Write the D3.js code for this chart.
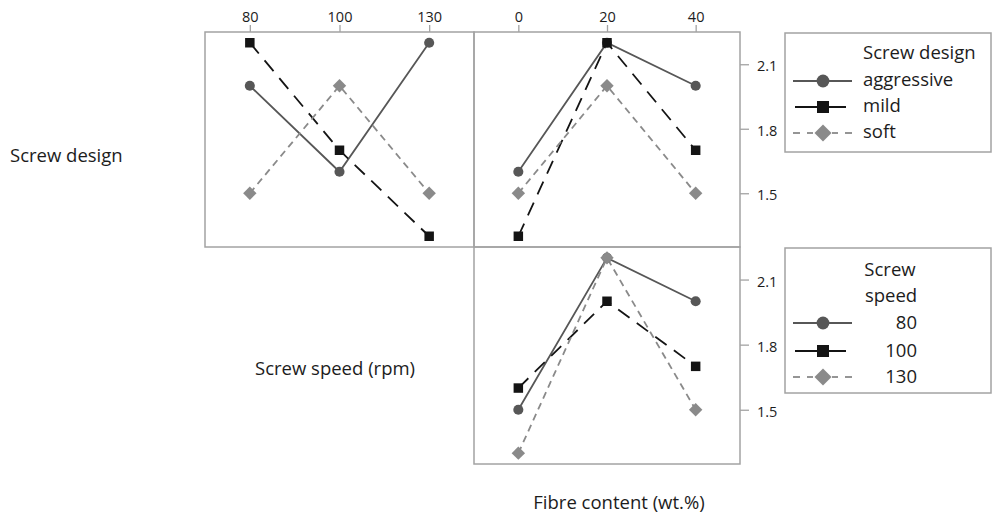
<!DOCTYPE html>
<html>
<head>
<meta charset="utf-8">
<script src="https://cdn.jsdelivr.net/npm/d3@7/dist/d3.min.js"></script>
<style>
  html, body { margin: 0; padding: 0; background: #fff; }
  svg { display: block; font-family: "Open Sans", "Noto Sans", sans-serif; }
</style>
</head>
<body>
<svg id="chart" width="992" height="520"></svg>
<script>
// Factor levels
const designLevels = ["aggressive", "mild", "soft"];
const speedLevels = ["80", "100", "130"];
const fibreLevels = ["0", "20", "40"];
const yTicks = [1.5, 1.8, 2.1];

// Interaction means: screw design across screw speed
const aggressiveBySpeed = [2.0, 1.6, 2.2];
const mildBySpeed = [2.2, 1.7, 1.3];
const softBySpeed = [1.5, 2.0, 1.5];

// Interaction means: screw design across fibre content
const aggressiveByFibre = [1.6, 2.2, 2.0];
const mildByFibre = [1.3, 2.2, 1.7];
const softByFibre = [1.5, 2.0, 1.5];

// Interaction means: screw speed across fibre content
const speed80ByFibre = [1.5, 2.2, 2.0];
const speed100ByFibre = [1.6, 2.0, 1.7];
const speed130ByFibre = [1.3, 2.2, 1.5];

// Square diamond (rotated square), sized like d3 symbols by area
const symbolRhomb = {
  draw(ctx, size) {
    const r = Math.sqrt(size / 2);
    ctx.moveTo(0, -r); ctx.lineTo(r, 0); ctx.lineTo(0, r); ctx.lineTo(-r, 0); ctx.closePath();
  }
};

// Visual style of the three levels (solid/circle, long dash/square, short dash/diamond)
const styles = [
  { color: "#575757", dash: null, shape: d3.symbolCircle, size: 80 },
  { color: "#141414", dash: "14,9", shape: d3.symbolSquare, size: 90 },
  { color: "#8a8a8a", dash: "7,5", shape: symbolRhomb, size: 90 }
];

const svg = d3.select("#chart");
const borderColor = "#a3a3a3";
const textColor = "#1c1c1c";
const bigFont = 18.5;

const colA = [205, 474];
const colB = [474, 740];
const rowA = [32, 247];
const rowB = [247, 464];

const yDomain = [1.25, 2.25];

function panel(xr, yr, levels, series, opts) {
  const x = d3.scalePoint().domain(levels).range(xr).padding(0.5);
  const y = d3.scaleLinear().domain(yDomain).range([yr[1], yr[0]]);

  const g = svg.append("g");

  series.forEach((vals, i) => {
    const st = styles[i];
    const pts = levels.map((l, k) => [x(l), y(vals[k])]);
    g.append("path")
      .attr("d", d3.line()(pts))
      .attr("fill", "none")
      .attr("stroke", st.color)
      .attr("stroke-width", 1.8)
      .attr("stroke-dasharray", st.dash);
  });
  series.forEach((vals, i) => {
    const st = styles[i];
    g.selectAll(null).data(vals).enter().append("path")
      .attr("transform", (v, k) => `translate(${x(levels[k])},${y(v)})`)
      .attr("d", d3.symbol().type(st.shape).size(st.size))
      .attr("fill", st.color);
  });

  g.append("rect")
    .attr("x", xr[0]).attr("y", yr[0])
    .attr("width", xr[1] - xr[0]).attr("height", yr[1] - yr[0])
    .attr("fill", "none").attr("stroke", borderColor).attr("stroke-width", 1.5);

  if (opts.topAxis) {
    const ax = svg.append("g")
      .attr("transform", `translate(0,${yr[0]})`)
      .call(d3.axisTop(x).tickSize(7).tickPadding(3));
    ax.select(".domain").remove();
    ax.selectAll("line").attr("stroke", borderColor).attr("stroke-width", 1.3);
    ax.selectAll("text").attr("font-size", 14.5).attr("fill", textColor)
      .attr("font-family", "'Open Sans', sans-serif");
  }
  if (opts.rightAxis) {
    const ay = svg.append("g")
      .attr("transform", `translate(${xr[1]},0)`)
      .call(d3.axisRight(y).tickValues(yTicks).tickFormat(d3.format(".1f")).tickSize(9).tickPadding(8));
    ay.select(".domain").remove();
    ay.selectAll("line").attr("stroke", borderColor).attr("stroke-width", 1.3);
    ay.selectAll("text").attr("font-size", 14.5).attr("fill", textColor)
      .attr("dy", "0.45em")
      .attr("font-family", "'Open Sans', sans-serif");
  }
}

panel(colA, rowA, speedLevels, [aggressiveBySpeed, mildBySpeed, softBySpeed], { topAxis: true });
panel(colB, rowA, fibreLevels, [aggressiveByFibre, mildByFibre, softByFibre], { topAxis: true, rightAxis: true });
panel(colB, rowB, fibreLevels, [speed80ByFibre, speed100ByFibre, speed130ByFibre], { rightAxis: true });

// Row and column factor labels
svg.append("text").attr("x", 10).attr("y", 162).text("Screw design")
  .attr("font-size", bigFont).attr("fill", textColor);
svg.append("text").attr("x", 255).attr("y", 375).text("Screw speed (rpm)")
  .attr("font-size", bigFont).attr("fill", textColor);
svg.append("text").attr("x", 619).attr("y", 509).attr("text-anchor", "middle")
  .text("Fibre content (wt.%)").attr("font-size", bigFont).attr("fill", textColor);

// Legends
function legendKey(g, i, cy) {
  const st = styles[i];
  const x0 = 793, x1 = 852, cx = 823;
  if (i === 0) {
    g.append("line").attr("x1", x0).attr("x2", x1).attr("y1", cy).attr("y2", cy)
      .attr("stroke", st.color).attr("stroke-width", 1.8);
  } else if (i === 1) {
    g.append("line").attr("x1", x0 + 2).attr("x2", x1 - 6).attr("y1", cy).attr("y2", cy)
      .attr("stroke", st.color).attr("stroke-width", 1.8);
  } else {
    [[x0, x0 + 7], [x0 + 14, x0 + 20], [x1 - 20, x1 - 14], [x1 - 7, x1]].forEach(s => {
      g.append("line").attr("x1", s[0]).attr("x2", s[1]).attr("y1", cy).attr("y2", cy)
        .attr("stroke", st.color).attr("stroke-width", 1.8);
    });
  }
  g.append("path").attr("transform", `translate(${cx},${cy})`)
    .attr("d", d3.symbol().type(st.shape).size(st.size * 1.6))
    .attr("fill", st.color);
}

const lg1 = svg.append("g");
lg1.append("rect").attr("x", 785).attr("y", 33).attr("width", 206).attr("height", 119)
  .attr("fill", "#fff").attr("stroke", borderColor).attr("stroke-width", 1.5);
lg1.append("text").attr("x", 863).attr("y", 59).text("Screw design")
  .attr("font-size", bigFont).attr("fill", textColor);
const rows1 = [81, 107, 133];
designLevels.forEach((lvl, i) => {
  legendKey(lg1, i, rows1[i]);
  lg1.append("text").attr("x", 863).attr("y", rows1[i] + 5).text(lvl)
    .attr("font-size", bigFont).attr("fill", textColor);
});

const lg2 = svg.append("g");
lg2.append("rect").attr("x", 785).attr("y", 248).attr("width", 206).attr("height", 145)
  .attr("fill", "#fff").attr("stroke", borderColor).attr("stroke-width", 1.5);
lg2.append("text").attr("x", 890).attr("y", 276).attr("text-anchor", "middle").text("Screw")
  .attr("font-size", bigFont).attr("fill", textColor);
lg2.append("text").attr("x", 891).attr("y", 302).attr("text-anchor", "middle").text("speed")
  .attr("font-size", bigFont).attr("fill", textColor);
const rows2 = [323, 351, 377];
speedLevels.forEach((lvl, i) => {
  legendKey(lg2, i, rows2[i]);
  lg2.append("text").attr("x", 917).attr("y", rows2[i] + 6).attr("text-anchor", "end").text(lvl)
    .attr("font-size", bigFont).attr("fill", textColor);
});
</script>
</body>
</html>
